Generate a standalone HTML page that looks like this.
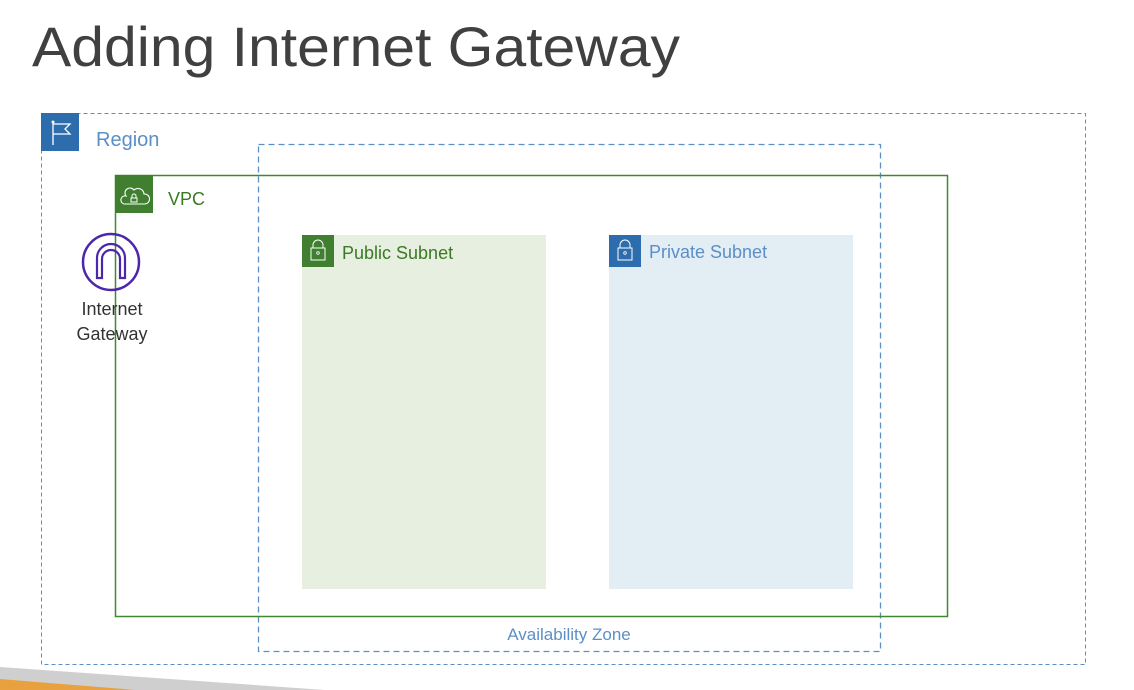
<!DOCTYPE html>
<html><head><style>
html,body{margin:0;padding:0;background:#fff;}
svg{display:block;font-family:"Liberation Sans",sans-serif;}
</style></head><body>
<svg width="1134" height="690" viewBox="0 0 1134 690" xmlns="http://www.w3.org/2000/svg">
<text x="32" y="66" font-size="56" fill="#404040" textLength="648" lengthAdjust="spacingAndGlyphs">Adding Internet Gateway</text>
<!-- Region -->
<rect x="41.5" y="113.5" width="1044" height="551" fill="none" stroke="#5B8FC6" stroke-width="1" stroke-dasharray="4,3"/>
<rect x="41" y="113" width="38" height="38" fill="#2E6DAD"/>
<path d="M53 122 V145 M53 124 H70 L65 129 L70 134 H53" fill="none" stroke="#fff" stroke-width="1.3"/>
<circle cx="53" cy="122" r="1.5" fill="#fff"/>
<text x="96" y="146" font-size="20" fill="#5B8FC6">Region</text>
<!-- Subnets -->
<rect x="302" y="235" width="244" height="354" fill="#E6EFE0"/>
<rect x="609" y="235" width="244" height="354" fill="#E2EDF4"/>
<!-- AZ -->
<rect x="258.5" y="144.5" width="622" height="507" fill="none" stroke="#5B8FC6" stroke-width="1.3" stroke-dasharray="6,4"/>
<text x="569" y="640" font-size="17" fill="#5B8FC6" text-anchor="middle">Availability Zone</text>
<!-- VPC -->
<rect x="115.5" y="175.5" width="832" height="441" fill="none" stroke="#3F8A2F" stroke-width="1.5"/>
<rect x="115" y="175" width="38" height="38" fill="#3F7F2F"/>
<path d="M124 204 H145 A5 5 0 0 0 144 194 A6 6 0 0 0 134 190 A5 5 0 0 0 126 196 A4 4 0 0 0 124 204 Z" fill="none" stroke="#fff" stroke-width="1.1"/>
<rect x="131" y="198" width="6" height="4" fill="none" stroke="#fff" stroke-width="1"/>
<path d="M132 198 V196 A2 2 0 0 1 136 196 V198" fill="none" stroke="#fff" stroke-width="1"/>
<text x="168" y="205" font-size="18" fill="#3A7A22">VPC</text>
<!-- IGW -->
<circle cx="111" cy="262" r="28" fill="none" stroke="#4D27AA" stroke-width="2.5"/>
<path d="M97 278 V258 A14 14 0 0 1 125 258 V278 H120 V259 A9 9 0 0 0 102 259 V278 Z" fill="none" stroke="#4D27AA" stroke-width="2.2"/>
<text x="112" y="315" font-size="18" fill="#333" text-anchor="middle">Internet</text>
<text x="112" y="340" font-size="18" fill="#333" text-anchor="middle">Gateway</text>
<!-- subnet icons -->
<rect x="302" y="235" width="32" height="32" fill="#3F7F2F"/>
<rect x="311" y="248" width="14" height="12" fill="none" stroke="#fff" stroke-width="1"/>
<path d="M313 248 V245 A5 5 0 0 1 323 245 V248" fill="none" stroke="#fff" stroke-width="1"/>
<circle cx="318" cy="253" r="1.3" fill="none" stroke="#fff" stroke-width="0.8"/>
<text x="342" y="259" font-size="18" fill="#3A7A22">Public Subnet</text>
<rect x="609" y="235" width="32" height="32" fill="#2E6DAD"/>
<rect x="618" y="248" width="14" height="12" fill="none" stroke="#fff" stroke-width="1"/>
<path d="M620 248 V245 A5 5 0 0 1 630 245 V248" fill="none" stroke="#fff" stroke-width="1"/>
<circle cx="625" cy="253" r="1.3" fill="none" stroke="#fff" stroke-width="0.8"/>
<text x="649" y="258" font-size="18" fill="#5B8FC6">Private Subnet</text>
<!-- bottom wedge -->
<polygon points="0,667 325,690 0,690" fill="#CFCFCF"/>
<polygon points="0,679 135,690 0,690" fill="#E8A13E"/>
</svg>
</body></html>
